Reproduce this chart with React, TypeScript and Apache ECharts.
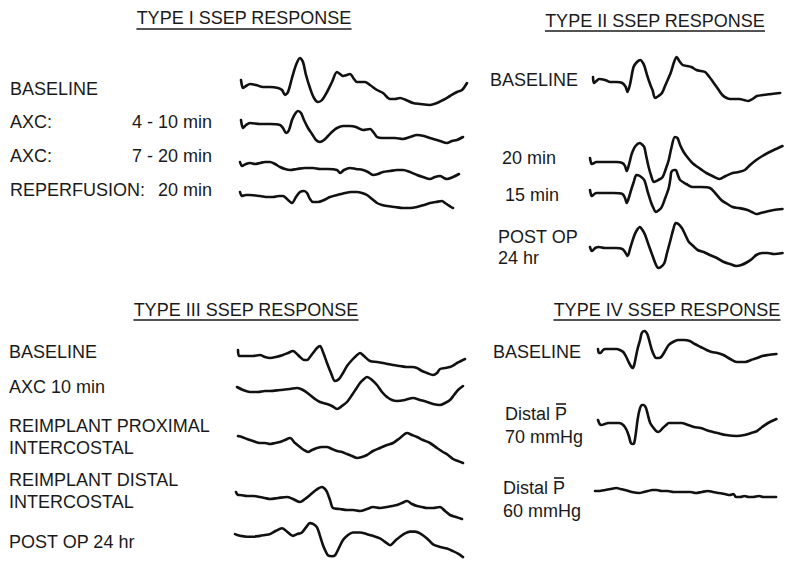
import React, { useEffect, useRef } from "react";
import * as echarts from "echarts";

const FONT = '"Liberation Sans", Arial, Helvetica, sans-serif';
const LABEL_SIZE = 18;
const TITLE_SIZE = 18;

// ---- Waveforms: [time (ms-like units), amplitude (arbitrary units, up = positive)] ----
const typeIBaseline = [[0,5],[2,-3],[5,-1],[9,1],[15,0],[22,-2],[29,-2],[37,-3],[41,-5],[44,-10],[47,-7],[51,7],[55,20],[59,27],[62,23],[65,10],[69,-3],[73,-13],[77,-17],[81,-15],[86,-7],[91,3],[96,13],[99,11],[102,9],[106,10],[109,11],[113,6],[116,3],[120,3],[124,3],[129,0],[136,-5],[142,-8],[149,-14],[154,-14],[159,-13],[165,-15],[172,-18],[179,-19],[189,-20],[196,-18],[202,-15],[209,-11],[216,-7],[221,-5],[226,2]];
const typeIAxc410 = [[0,5],[2,-3],[5,0],[9,2],[19,1],[29,1],[39,0],[42,-3],[45,-8],[48,-5],[51,5],[54,11],[57,14],[60,12],[63,5],[67,-3],[71,-9],[75,-15],[79,-17],[83,-15],[87,-11],[92,-6],[96,-3],[102,-1],[109,-1],[115,-2],[122,-5],[129,-4],[133,-8],[136,-12],[141,-13],[146,-13],[154,-13],[162,-14],[169,-12],[176,-10],[183,-11],[189,-13],[199,-16],[206,-18],[211,-16],[216,-15],[222,-12]];
const typeIAxc720 = [[0,3],[2,-1],[6,1],[10,2],[15,1],[20,2],[25,3],[30,3],[35,1],[40,-2],[45,-4],[50,-5],[57,-4],[65,-3],[73,-3],[80,-4],[88,-4],[97,-5],[100,-8],[104,-5],[110,-3],[116,-4],[123,-5],[128,-7],[133,-10],[138,-9],[143,-7],[150,-6],[157,-5],[163,-5],[170,-7],[177,-10],[183,-12],[190,-14],[195,-12],[200,-11],[204,-13],[207,-14],[213,-12],[219,-9]];
const typeIReperfusion = [[0,3],[2,-1],[6,0],[10,0],[20,-1],[28,-2],[33,-2],[39,-1],[43,-1],[47,-4],[52,-8],[56,-2],[60,3],[64,4],[67,2],[70,-4],[73,-7],[78,-7],[84,-5],[90,-2],[97,0],[101,1],[105,2],[111,3],[117,3],[122,2],[127,0],[132,-4],[137,-8],[142,-10],[147,-11],[155,-12],[163,-13],[170,-13],[177,-12],[184,-10],[190,-8],[196,-7],[202,-6],[205,-8],[208,-10],[211,-12],[213,-13]];

const typeIIBaseline = [[0,3],[1,-3],[4,-1],[7,1],[14,0],[20,-2],[27,-2],[34,-3],[38,-7],[40,-12],[43,-4],[47,13],[51,18],[55,20],[58,17],[60,13],[63,4],[67,-6],[69,-10],[72,-18],[76,-16],[80,-13],[84,-5],[90,7],[94,18],[97,23],[100,19],[104,15],[109,14],[114,13],[120,10],[125,9],[130,8],[135,3],[140,-3],[145,-9],[150,-15],[155,-18],[159,-19],[165,-19],[170,-19],[175,-20],[180,-21],[185,-19],[190,-16],[197,-15],[207,-14],[217,-13]];
const typeII20min = [[0,4],[2,-2],[5,-1],[7,0],[15,0],[23,0],[30,0],[37,-1],[40,-4],[42,-9],[45,-1],[48,9],[52,16],[57,19],[60,17],[62,15],[64,7],[67,-5],[70,-14],[73,-20],[78,-18],[83,-15],[87,-6],[90,2],[93,14],[97,25],[100,24],[103,17],[107,10],[112,4],[117,-1],[123,-5],[128,-8],[133,-11],[140,-14],[148,-17],[155,-14],[163,-11],[170,-10],[177,-8],[183,-3],[190,2],[197,6],[203,9],[210,12],[220,16]];
const typeII15min = [[0,3],[2,-3],[5,-1],[7,0],[17,0],[27,0],[37,-1],[40,-5],[42,-10],[45,-3],[47,3],[50,11],[53,18],[57,17],[62,13],[66,1],[70,-10],[73,-16],[75,-19],[79,-17],[82,-14],[86,-5],[90,5],[92,15],[93,21],[96,23],[98,23],[100,19],[103,13],[110,9],[117,6],[127,6],[137,5],[143,0],[150,-7],[157,-11],[163,-14],[170,-15],[180,-17],[185,-19],[190,-21],[195,-20],[200,-19],[210,-17],[220,-16]];
const typeIIPostOp = [[0,1],[2,-3],[6,0],[10,1],[17,0],[23,0],[30,0],[37,-1],[40,-4],[43,-8],[46,0],[50,11],[53,17],[57,21],[60,18],[63,13],[67,3],[72,-9],[75,-16],[78,-20],[81,-19],[85,-15],[88,-5],[92,8],[95,18],[98,25],[101,24],[105,20],[109,13],[113,6],[118,2],[123,-2],[130,-4],[137,-7],[145,-10],[153,-14],[160,-16],[167,-18],[173,-17],[180,-14],[185,-11],[190,-7],[197,-5],[203,-5],[210,-6],[220,-5]];

const typeIIIBaseline = [[0,6],[1,0],[5,0],[9,0],[15,0],[22,1],[27,-1],[32,-2],[38,-1],[45,1],[50,3],[55,5],[59,2],[62,-1],[66,-4],[69,-4],[72,-1],[75,3],[79,8],[82,10],[85,4],[89,-7],[93,-17],[97,-25],[101,-23],[105,-17],[109,-10],[114,-4],[118,0],[122,3],[126,0],[132,-5],[139,-6],[145,-7],[150,-8],[155,-9],[162,-10],[169,-11],[174,-11],[179,-12],[184,-15],[189,-17],[195,-19],[199,-17],[202,-13],[207,-12],[212,-11],[216,-9],[219,-7],[223,-5],[227,-3]];
const typeIIIAxc10 = [[0,3],[6,0],[13,-2],[21,-2],[28,-1],[33,-1],[43,0],[53,1],[60,2],[66,0],[73,-5],[78,-9],[83,-12],[90,-14],[95,-16],[100,-19],[105,-16],[110,-12],[115,-5],[119,1],[123,7],[127,11],[130,13],[135,10],[140,5],[145,-2],[150,-7],[155,-10],[160,-11],[168,-10],[176,-8],[183,-10],[190,-12],[196,-14],[203,-15],[208,-13],[213,-10],[217,-5],[221,0],[226,4]];
const typeIIIProximal = [[0,4],[4,3],[9,1],[15,-1],[22,-3],[27,-3],[32,-4],[37,-3],[42,-2],[47,0],[52,2],[57,-3],[62,-7],[66,-10],[70,-12],[74,-10],[79,-8],[84,-7],[89,-7],[94,-9],[99,-11],[104,-12],[109,-14],[114,-16],[119,-18],[124,-17],[129,-15],[135,-11],[142,-8],[149,-5],[155,-3],[162,2],[169,7],[174,5],[179,3],[185,0],[192,-3],[199,-8],[205,-12],[210,-15],[215,-19],[220,-21],[225,-23]];
const typeIIIDistal = [[0,3],[2,0],[4,0],[11,-1],[17,-1],[24,-2],[29,-3],[34,-4],[42,-3],[51,-2],[57,-4],[64,-7],[69,-4],[74,0],[80,5],[86,8],[89,6],[91,3],[94,-5],[97,-13],[104,-14],[111,-15],[117,-15],[124,-16],[131,-14],[137,-12],[144,-13],[151,-12],[156,-11],[161,-10],[166,-8],[171,-6],[176,-9],[181,-11],[186,-12],[191,-13],[197,-13],[204,-12],[209,-16],[214,-20],[220,-22],[226,-24]];
const typeIIIPostOp = [[0,1],[5,-1],[12,-2],[18,-2],[25,-1],[30,0],[35,1],[41,5],[47,8],[52,4],[58,-1],[62,1],[67,3],[71,9],[75,14],[78,13],[82,9],[85,-1],[88,-12],[91,-20],[93,-24],[97,-25],[100,-24],[104,-15],[108,-6],[113,0],[118,3],[125,3],[132,1],[138,-1],[145,-4],[150,-8],[155,-12],[160,-7],[165,-2],[170,2],[175,4],[180,4],[185,2],[192,-4],[198,-11],[205,-14],[212,-16],[218,-19],[223,-22],[228,-26]];

const typeIVBaseline = [[0,2],[1,-2],[3,-2],[6,1],[9,2],[15,2],[22,2],[26,1],[30,-1],[33,-5],[37,-12],[41,-17],[43,-14],[45,-6],[47,2],[50,11],[52,18],[55,20],[57,19],[59,16],[62,7],[64,1],[67,-5],[69,-7],[72,-7],[75,-6],[79,-1],[84,6],[89,9],[95,11],[102,11],[109,10],[115,7],[122,4],[129,1],[135,-1],[142,-2],[149,-4],[157,-8],[165,-11],[170,-11],[175,-11],[182,-9],[189,-7],[195,-5],[202,-4],[212,-3]];
const typeIVDistal70 = [[0,3],[2,-1],[4,-2],[8,-1],[12,0],[19,0],[25,0],[30,-2],[34,-7],[37,-14],[39,-20],[41,-21],[43,-20],[45,-10],[47,3],[49,12],[52,18],[54,18],[57,15],[59,9],[62,0],[66,-5],[69,-8],[72,-9],[77,-5],[81,-2],[84,0],[92,0],[99,0],[107,-2],[114,-4],[122,-5],[132,-8],[142,-10],[152,-12],[165,-13],[174,-12],[182,-10],[189,-8],[195,-4],[202,0],[212,4]];
const typeIVDistal60 = [[0,0],[5,0],[12,1],[18,2],[25,3],[30,2],[35,1],[43,-1],[52,-2],[57,-1],[62,0],[67,1],[72,1],[78,0],[85,0],[92,-1],[98,-1],[105,-1],[112,-1],[118,-2],[125,-1],[132,0],[138,-1],[145,-2],[152,-3],[158,-4],[162,-3],[165,-6],[170,-6],[175,-5],[180,-6],[185,-6],[192,-5],[197,-6],[202,-6],[212,-6]];

// ---- Texts ----
const panelTitles = ["TYPE I SSEP RESPONSE", "TYPE II SSEP RESPONSE", "TYPE III SSEP RESPONSE", "TYPE IV SSEP RESPONSE"];
const typeILabels = ["BASELINE", "AXC:", "AXC:", "REPERFUSION:"];
const typeITimes = ["4 - 10 min", "7 - 20 min", "20 min"];
const typeIILabels = ["BASELINE", "20 min", "15 min", "POST OP", "24 hr"];
const typeIIILabels = ["BASELINE", "AXC 10 min", "REIMPLANT PROXIMAL", "INTERCOSTAL", "REIMPLANT DISTAL", "INTERCOSTAL", "POST OP 24 hr"];
const typeIVLabels = ["BASELINE", "Distal ", "P", "70 mmHg", "60 mmHg"];

// ---- Layout (where each trace's baseline starts on the page) ----
const traceLayout = [
  { data: typeIBaseline, x: 241, y: 85 },
  { data: typeIAxc410, x: 241, y: 125 },
  { data: typeIAxc720, x: 240, y: 165 },
  { data: typeIReperfusion, x: 240, y: 195 },
  { data: typeIIBaseline, x: 593, y: 80 },
  { data: typeII20min, x: 590, y: 162 },
  { data: typeII15min, x: 590, y: 193 },
  { data: typeIIPostOp, x: 590, y: 248 },
  { data: typeIIIBaseline, x: 238, y: 356 },
  { data: typeIIIAxc10, x: 237, y: 390 },
  { data: typeIIIProximal, x: 238, y: 440 },
  { data: typeIIIDistal, x: 236, y: 495 },
  { data: typeIIIPostOp, x: 235, y: 541 },
  { data: typeIVBaseline, x: 598, y: 351 },
  { data: typeIVDistal70, x: 598, y: 423 },
  { data: typeIVDistal60, x: 595, y: 491 },
];

function measure(text: string, size: number): number {
  const c = document.createElement("canvas").getContext("2d");
  if (!c) return text.length * size * 0.6;
  c.font = `${size}px ${FONT}`;
  return c.measureText(text).width;
}

const INK = "#1a1a1a";

function label(text: string, x: number, y: number, align: string = "left") {
  return {
    type: "text",
    x,
    y,
    silent: true,
    style: { text, fontSize: LABEL_SIZE, fontFamily: FONT, fill: INK, align, verticalAlign: "middle" },
  };
}

function title(text: string, cx: number, y: number, uy: number) {
  const w = measure(text, TITLE_SIZE);
  return [
    {
      type: "text",
      x: cx,
      y,
      silent: true,
      style: { text, fontSize: TITLE_SIZE, fontFamily: FONT, fill: INK, align: "center", verticalAlign: "middle" },
    },
    {
      type: "line",
      silent: true,
      shape: { x1: cx - w / 2, y1: uy, x2: cx + w / 2, y2: uy },
      style: { stroke: INK, lineWidth: 1.6 },
    },
  ];
}

function overlinedP(x: number, y: number, numberLabel: string) {
  const wD = measure(typeIVLabels[1], LABEL_SIZE);
  const wP = measure(typeIVLabels[2], LABEL_SIZE);
  return [
    label(typeIVLabels[1] + typeIVLabels[2], x, y),
    {
      type: "line",
      silent: true,
      shape: { x1: x + wD + 1, y1: y - 10, x2: x + wD + wP - 1, y2: y - 10 },
      style: { stroke: INK, lineWidth: 1.6 },
    },
    label(numberLabel, x, y + 23),
  ];
}

export default function App() {
  const ref = useRef<HTMLDivElement>(null);

  useEffect(() => {
    if (!ref.current) return;
    const chart = echarts.init(ref.current, null, { renderer: "svg" });

    const W = 240;
    const H = 80;
    const grids = traceLayout.map((t) => ({ left: t.x, top: t.y - H / 2, width: W, height: H }));
    const xAxes = traceLayout.map((_, i) => ({ type: "value", gridIndex: i, min: 0, max: W, show: false }));
    const yAxes = traceLayout.map((_, i) => ({ type: "value", gridIndex: i, min: -H / 2, max: H / 2, show: false }));
    const series = traceLayout.map((t, i) => ({
      type: "line",
      xAxisIndex: i,
      yAxisIndex: i,
      data: t.data,
      symbol: "none",
      smooth: 0.3,
      clip: false,
      lineStyle: { color: "#111", width: 2.6, cap: "round", join: "round" },
      silent: true,
    }));

    const tEnd = 132 + measure(typeITimes[0], LABEL_SIZE);

    const graphic: any[] = [
      ...title(panelTitles[0], 244, 18, 29),
      ...title(panelTitles[1], 655, 21, 31),
      ...title(panelTitles[2], 246, 310, 320),
      ...title(panelTitles[3], 667, 310, 320),

      label(typeILabels[0], 10, 89),
      label(typeILabels[1], 10, 122),
      label(typeITimes[0], 132, 122),
      label(typeILabels[2], 10, 156),
      label(typeITimes[1], 132, 156),
      label(typeILabels[3], 10, 190),
      label(typeITimes[2], tEnd, 190, "right"),

      label(typeIILabels[0], 490, 80),
      label(typeIILabels[1], 502, 158),
      label(typeIILabels[2], 505, 195),
      label(typeIILabels[3], 498, 237),
      label(typeIILabels[4], 498, 258),

      label(typeIIILabels[0], 9, 352),
      label(typeIIILabels[1], 9, 387),
      label(typeIIILabels[2], 9, 426),
      label(typeIIILabels[3], 9, 448),
      label(typeIIILabels[4], 9, 480),
      label(typeIIILabels[5], 9, 502),
      label(typeIIILabels[6], 9, 542),

      label(typeIVLabels[0], 493, 352),
      ...overlinedP(505, 414, typeIVLabels[3]),
      ...overlinedP(503, 488, typeIVLabels[4]),
    ];

    chart.setOption({
      animation: false,
      backgroundColor: "#ffffff",
      grid: grids,
      xAxis: xAxes,
      yAxis: yAxes,
      series,
      graphic,
    });

    return () => chart.dispose();
  }, []);

  return (
    <div
      ref={ref}
      style={{ position: "fixed", left: 0, top: 0, width: 800, height: 569, background: "#fff" }}
    />
  );
}
